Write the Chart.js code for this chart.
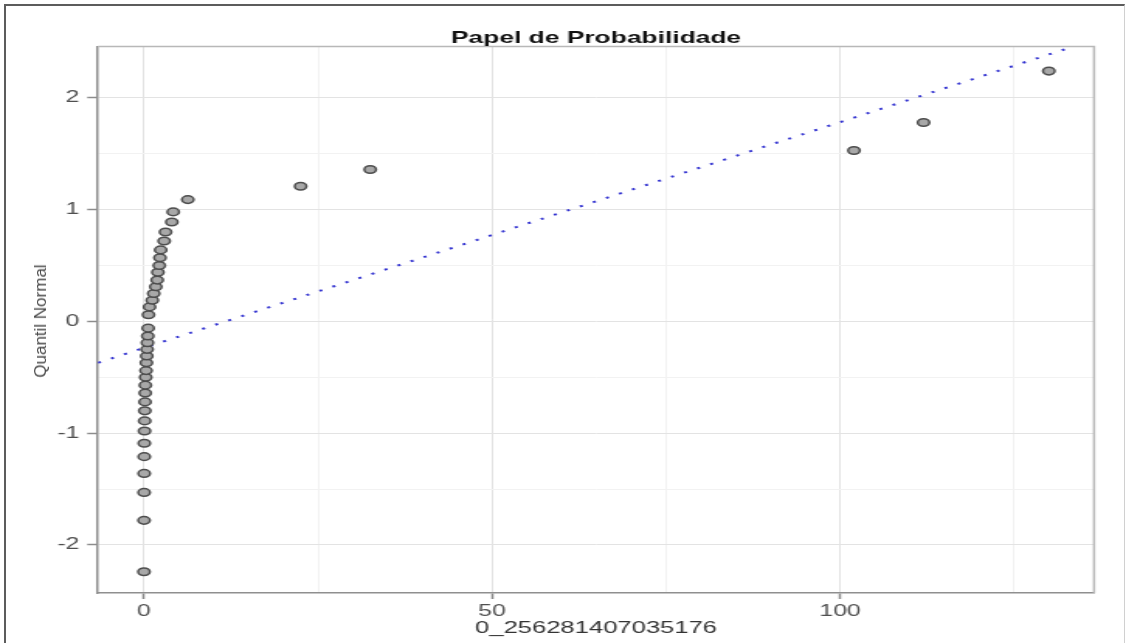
<!DOCTYPE html>
<html>
<head>
<meta charset="utf-8">
<title>Papel de Probabilidade</title>
<script src="https://cdn.jsdelivr.net/npm/chart.js@4/dist/chart.umd.min.js"></script>
<style>
  body { margin:0; background:#fff; width:1126px; height:643px; overflow:hidden; position:relative; }
  #frame { position:absolute; left:4px; top:4px; width:1118px; height:700px; border-left:2px solid #5c5c5c; border-top:2px solid #5c5c5c; border-right:1px solid #d0d0d0; }
  /* the original picture is stretched sideways, so the canvas is too */
  #wrap { position:absolute; left:0; top:0; width:726px; height:643px; transform:scaleX(1.551); transform-origin:0 0; }
  #ylab { position:absolute; left:41px; top:321px; transform:translate(-50%,-50%) rotate(-90deg); white-space:nowrap; font:17px 'Liberation Sans', Arial, sans-serif; color:#4a4a4a; }
</style>
</head>
<body>
<div id="frame"></div>
<div id="wrap"><canvas id="myChart" width="726" height="643"></canvas></div>
<div id="ylab">Quantil Normal</div>
<script>
// sample values (sorted) against their normal quantiles
const sampleX = [0.0, 0.01, 0.02, 0.03, 0.04, 0.05, 0.08, 0.1, 0.12, 0.15,
                 0.18, 0.2, 0.25, 0.3, 0.35, 0.4, 0.45, 0.5, 0.55, 0.6,
                 0.65, 0.8, 1.2, 1.4, 1.7, 1.9, 2.0, 2.2, 2.3, 2.4,
                 2.9, 3.1, 4.0, 4.2, 6.3, 22.5, 32.5, 102, 112, 130];
const quantY = [-2.24, -1.78, -1.53, -1.36, -1.21, -1.09, -0.98, -0.89, -0.80, -0.72,
                -0.64, -0.57, -0.50, -0.44, -0.37, -0.31, -0.25, -0.19, -0.13, -0.06,
                0.06, 0.13, 0.19, 0.25, 0.31, 0.37, 0.44, 0.50, 0.57, 0.64,
                0.72, 0.80, 0.89, 0.98, 1.09, 1.21, 1.36, 1.53, 1.78, 2.24];
// reference line (dotted blue), two end points
const lineX = [-6.6, 136.5];
const lineY = [-0.37, 2.52];
// labelled ticks
const xTicks = [0, 50, 100];
const yTicks = [-2, -1, 0, 1, 2];

Chart.defaults.font.family = "'Liberation Sans', Arial, sans-serif";

const isMajor = (list, v) => list.some(t => Math.abs(t - v) < 1e-6);

// top/right box lines and a title centred on the plot
const boxPlugin = {
  id: 'box',
  afterDraw(chart) {
    const {ctx, chartArea: a} = chart;
    ctx.save();
    ctx.strokeStyle = '#b8b8b8';
    ctx.lineWidth = 1.5;
    ctx.beginPath();
    ctx.moveTo(a.left, a.top);
    ctx.lineTo(a.right, a.top);
    ctx.lineTo(a.right, a.bottom);
    ctx.stroke();
    ctx.fillStyle = '#111';
    ctx.font = "bold 17px 'Liberation Sans', Arial, sans-serif";
    ctx.textAlign = 'center';
    ctx.textBaseline = 'alphabetic';
    ctx.fillText('Papel de Probabilidade', (a.left + a.right) / 2, 43);
    ctx.restore();
  }
};

const config = {
  data: {
    datasets: [
      {
        type: 'scatter',
        data: sampleX.map((x, i) => ({x: x, y: quantY[i]})),
        pointRadius: 3.8,
        pointHoverRadius: 3.8,
        backgroundColor: '#a8a8a8',
        borderColor: '#4d4d4d',
        borderWidth: 1.5,
      },
      {
        type: 'line',
        data: lineX.map((x, i) => ({x: x, y: lineY[i]})),
        borderColor: '#3434d0',
        borderWidth: 2,
        borderDash: [2, 7.4],
        pointRadius: 0,
        fill: false,
      }
    ]
  },
  options: {
    responsive: false,
    animation: false,
    layout: {padding: {top: 46.5, right: 20.6, left: 0, bottom: 0}},
    plugins: {legend: {display: false}, tooltip: {enabled: false}, title: {display: false}},
    scales: {
      x: {
        type: 'linear',
        min: -6.6,
        max: 136.5,
        afterFit: s => { s.height = 50; },
        border: {color: '#8f8f8f', width: 1.5},
        grid: {
          color: c => isMajor(xTicks, c.tick.value) ? '#e3e3e3' : '#f2f2f2',
          tickColor: c => isMajor(xTicks, c.tick.value) ? '#8c8c8c' : 'rgba(0,0,0,0)',
          tickLength: 6,
          tickWidth: 1.5,
        },
        ticks: {
          stepSize: 25,
          includeBounds: false,
          maxRotation: 0,
          padding: 3,
          color: '#505050',
          font: {size: 16},
          callback: v => isMajor(xTicks, v) ? v : '',
        },
        title: {
          display: true,
          text: '0_256281407035176',
          color: '#333',
          font: {size: 16.5},
          padding: {top: 0, bottom: 5},
        }
      },
      y: {
        type: 'linear',
        min: -2.43,
        max: 2.46,
        afterFit: s => { s.width = 63.2; },
        border: {color: '#8f8f8f', width: 1.5},
        grid: {
          color: c => isMajor(yTicks, c.tick.value) ? '#e3e3e3' : '#f2f2f2',
          tickColor: c => isMajor(yTicks, c.tick.value) ? '#8c8c8c' : 'rgba(0,0,0,0)',
          tickLength: 7,
          tickWidth: 1.5,
        },
        ticks: {
          stepSize: 0.5,
          includeBounds: false,
          padding: 5,
          color: '#505050',
          font: {size: 16},
          callback: v => isMajor(yTicks, v) ? v : '',
        }
      }
    }
  },
  plugins: [boxPlugin]
};

const myChart = new Chart(document.getElementById('myChart'), config);
</script>
</body>
</html>
